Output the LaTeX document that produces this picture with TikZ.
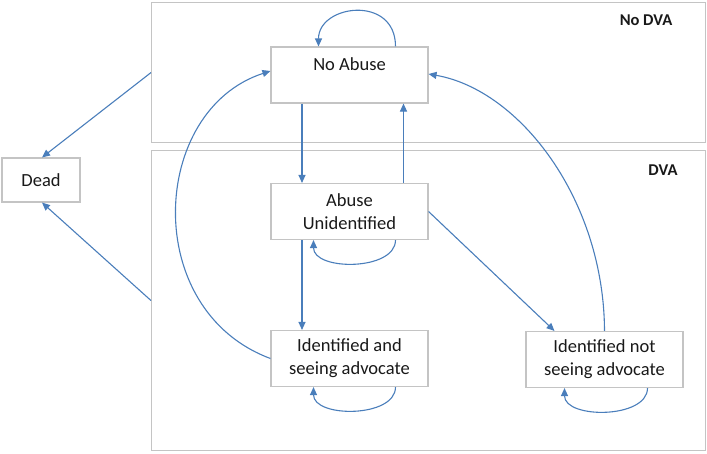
\documentclass[tikz,border=0pt]{standalone}
\usepackage{fontspec}
\setmainfont{Carlito}
\usetikzlibrary{arrows.meta}
\definecolor{arr}{HTML}{4A7EBB}
\definecolor{frm}{HTML}{C4C4C4}
\begin{document}
\begin{tikzpicture}[x=1pt,y=-1pt,
  box/.style={draw=frm, line width=1.1pt, fill=white, minimum width=157pt, minimum height=56pt,
    inner sep=0pt, align=center, font=\fontsize{18.5}{22.7}\selectfont, text=black!90},
  frame/.style={draw=frm, line width=1.1pt, inner sep=0pt, anchor=north west},
  link/.style={draw=arr, line width=1.1pt, -{Triangle[length=8pt,width=7pt]}},
  lbl/.style={font=\bfseries\fontsize{16.5}{20}\selectfont, text=black!90}]
\useasboundingbox (0,0) rectangle (707,453);
% frames
\node[frame, minimum width=554pt, minimum height=140pt] (nodva) at (151,2) {};
\node[frame, minimum width=554pt, minimum height=300pt] (dva) at (151,150) {};
\node[lbl] (nodvalbl) at (646,20) {No DVA};
\node[lbl] (dvalbl) at (663,170) {DVA};
% states
\node[box, minimum width=78pt, minimum height=44pt] (dead) at (41,180) {Dead};
\node[box] (na) at (349.5,75) {No Abuse\\~};
\node[box] (au) at (349.5,211.5) {Abuse\\Unidentified};
\node[box] (ia) at (349.5,358.5) {Identified and\\seeing advocate};
\node[box] (ins) at (604.5,359.5) {Identified not\\seeing advocate};
% transitions
\draw[link] ([xshift=46pt]na.north) .. controls +(0,-52) and +(0,-42) .. ([xshift=-31pt]na.north);
\draw[link] ([xshift=-47.5pt]na.south) -- ([xshift=-47.5pt]au.north);
\draw[link] ([xshift=54pt]au.north) -- ([xshift=54pt]na.south);
\draw[link] ([xshift=46pt]au.south) .. controls +(0,31) and +(0,31) .. ([xshift=-36pt]au.south);
\draw[link] ([xshift=-47.5pt]au.south) -- ([xshift=-47.5pt]ia.north);
\draw[link] (au.east) -- ([xshift=-50pt]ins.north);
\draw[link] ([xshift=46pt]ia.south) .. controls +(0,31) and +(0,31) .. ([xshift=-36pt]ia.south);
\draw[link] ([xshift=43pt]ins.south) .. controls +(0,31) and +(0,31) .. ([xshift=-40pt]ins.south);
\draw[link] (ia.west) .. controls (140,310) and (150,110) .. ([yshift=4pt]na.west);
\draw[link] (ins.north) .. controls (604,200) and (520,90) .. ([yshift=1pt]na.east);
\draw[link] (nodva.west) -- ([xshift=1pt]dead.north);
\draw[link] (dva.west) -- ([xshift=1pt]dead.south);
\end{tikzpicture}
\end{document}
